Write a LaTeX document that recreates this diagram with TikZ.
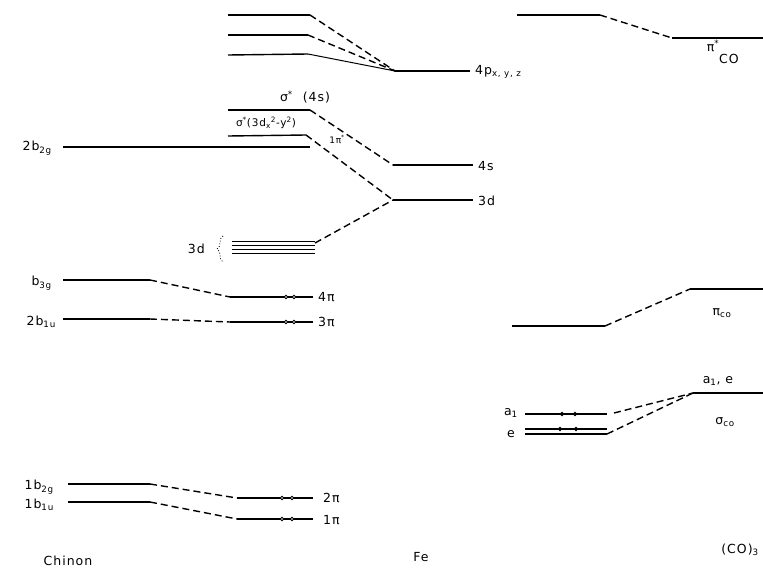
\documentclass[tikz,border=0pt]{standalone}
\usepackage{fontspec}
\setmainfont[LetterSpace=8]{DejaVu Sans}
\begin{document}
\begin{tikzpicture}[x=1pt,y=-1pt,
  level/.style={line width=1.4pt},
  corr/.style={line width=1.4pt, dash pattern=on 7pt off 4pt},
  lab/.style={font=\fontsize{12.5}{14}\selectfont, inner sep=1pt},
  elec/.style={draw, circle, fill=white, inner sep=0pt, minimum size=3.5pt, line width=0.8pt}]
\useasboundingbox (0,0) rectangle (763,570);

% ---------- Fe 4p and its partners ----------
\coordinate (pAl) at (228,15);  \coordinate (pAr) at (310,15);
\coordinate (pBl) at (228,35);  \coordinate (pBr) at (308,35);
\coordinate (pCl) at (228,55);  \coordinate (pCr) at (308,54);
\coordinate (fpl) at (395,71);  \coordinate (fpr) at (470,71);
\draw[level] (pAl) -- (pAr);
\draw[level] (pBl) -- (pBr);
\draw[level] (pCl) -- (pCr);
\draw[corr] (pAr) -- (fpl);
\draw[corr] (pBr) -- (fpl);
\draw[line width=1pt] (pCr) -- (fpl);
\draw[level] (fpl) -- (fpr);
\node[lab, anchor=west] (l4p) at (474,72) {4p\textsubscript{x, y, z}};

% ---------- sigma* levels, Fe 4s and 3d ----------
\coordinate (s4l) at (228,110);  \coordinate (s4r) at (310,110);
\coordinate (s3l) at (228,136);  \coordinate (s3r) at (306,135);
\coordinate (f4sl) at (393,165); \coordinate (f4sr) at (473,165);
\coordinate (f3dl) at (393,200); \coordinate (f3dr) at (473,200);
\draw[level] (s4l) -- (s4r);
\draw[level] (s3l) -- (s3r);
\draw[corr] (s4r) -- (f4sl);
\draw[corr] (s3r) -- (f3dl);
\draw[level] (f4sl) -- (f4sr);
\draw[level] (f3dl) -- (f3dr);
\node[lab] (ls4) at (305,97) {σ\textsuperscript{*}\ \ (4s)};
\node[lab, font=\fontsize{10.5}{12}\selectfont] (ls3) at (266,123) {σ\textsuperscript{*}(3d\textsubscript{x}\textsuperscript{2}-y\textsuperscript{2})};
\node[lab, font=\fontsize{9}{10}\selectfont, inner sep=0pt] (lpis) at (337,139) {1π\textsuperscript{*}};
\node[lab, anchor=west] (l4s) at (477,166) {4s};
\node[lab, anchor=west] (l3d) at (477,201) {3d};

% ---------- 2b2g ----------
\coordinate (bggl) at (63,147); \coordinate (bggr) at (310,147);
\draw[level] (bggl) -- (bggr);
\node[lab, anchor=east] (lbgg) at (53,148) {2b\textsubscript{2g}};

% ---------- Fe 3d set ----------
\foreach \yy in {241,245,249,253} \draw[line width=1pt] (232,\yy) -- (315,\yy);
\coordinate (d3r) at (315,243);
\draw[corr] (d3r) -- (f3dl);
\node[lab, anchor=east] (ld3) at (206,249) {3d};
\draw[line width=0.8pt, dotted] (223,236) .. controls (218,238) and (222,247) .. (217,249)
  .. controls (222,251) and (218,260) .. (223,262);

% ---------- b3g / 4pi, 2b1u / 3pi ----------
\coordinate (tgl) at (63,280);  \coordinate (tgm) at (150,280);
\coordinate (fpil) at (230,297); \coordinate (fpir) at (313,297);
\draw[level] (tgl) -- (tgm);
\draw[corr] (tgm) -- (fpil);
\draw[level] (fpil) -- (fpir);
\node[lab, anchor=east] (ltg) at (53,283) {b\textsubscript{3g}};
\node[lab, anchor=west] (l4pi) at (317,297) {4π};

\coordinate (oul) at (63,319);  \coordinate (oum) at (150,319);
\coordinate (tpil) at (230,322); \coordinate (tpir) at (313,322);
\draw[level] (oul) -- (oum);
\draw[corr] (oum) -- (tpil);
\draw[level] (tpil) -- (tpir);
\node[lab, anchor=east] (lou) at (57,322) {2b\textsubscript{1u}};
\node[lab, anchor=west] (l3pi) at (317,322) {3π};

% ---------- 1b2g / 2pi, 1b1u / 1pi ----------
\coordinate (wgl) at (68,484);  \coordinate (wgm) at (150,484);
\coordinate (wpil) at (237,498); \coordinate (wpir) at (313,498);
\draw[level] (wgl) -- (wgm);
\draw[corr] (wgm) -- (wpil);
\draw[level] (wpil) -- (wpir);
\node[lab, anchor=east] (lwg) at (55,487) {1b\textsubscript{2g}};
\node[lab, anchor=west] (l2pi) at (322,498) {2π};

\coordinate (wul) at (68,502);  \coordinate (wum) at (150,502);
\coordinate (opil) at (237,519); \coordinate (opir) at (313,519);
\draw[level] (wul) -- (wum);
\draw[corr] (wum) -- (opil);
\draw[level] (opil) -- (opir);
\node[lab, anchor=east] (lwu) at (55,505) {1b\textsubscript{1u}};
\node[lab, anchor=west] (l1pi) at (322,520) {1π};

% electrons
\foreach \xx/\yy in {286/297,294/297,286/322,294/322,282/498,292/498,282/519,292/519,
                     562/414,575/414,560/429,576/429}
  \node[elec] at (\xx,\yy) {};

% ---------- (CO)3 side ----------
\coordinate (csl) at (517,15);  \coordinate (csm) at (600,15);
\coordinate (cco) at (672,38);  \coordinate (ccr) at (763,38);
\draw[level] (csl) -- (csm);
\draw[corr] (csm) -- (cco);
\draw[level] (cco) -- (ccr);
\node[lab] (lpsc) at (713,46) {π\textsuperscript{*}};
\node[lab] (lpsco) at (729,59) {CO};

\coordinate (cpl) at (512,326); \coordinate (cpm) at (605,326);
\coordinate (cpo) at (690,289); \coordinate (cpr) at (763,289);
\draw[level] (cpl) -- (cpm);
\draw[corr] (cpm) -- (cpo);
\draw[level] (cpo) -- (cpr);
\node[lab] (lpco) at (722,313) {π\textsubscript{co}};

\coordinate (sgo) at (693,393); \coordinate (sgr) at (763,393);
\draw[level] (sgo) -- (sgr);
\node[lab] (lae) at (718,381) {a\textsubscript{1}, e};
\node[lab] (lsco) at (725,422) {σ\textsubscript{co}};

\coordinate (al) at (525,414); \coordinate (ar) at (607,414); \coordinate (ad) at (614,413);
\coordinate (el) at (525,429); \coordinate (er) at (607,429);
\coordinate (fl) at (525,434); \coordinate (fr) at (607,434);
\draw[level] (al) -- (ar);
\draw[level] (el) -- (er);
\draw[level] (fl) -- (fr);
\draw[corr] (ad) -- (sgo);
\draw[corr] (fr) -- (sgo);
\node[lab, anchor=east] (la1) at (519,413) {a\textsubscript{1}};
\node[lab, anchor=east] (le) at (516,434) {e};

% ---------- column captions ----------
\node[lab] (cchin) at (68,561) {Chinon};
\node[lab] (cfe) at (421,557) {Fe};
\node[lab] (cco3) at (740,550) {(CO)\textsubscript{3}};
\end{tikzpicture}
\end{document}
